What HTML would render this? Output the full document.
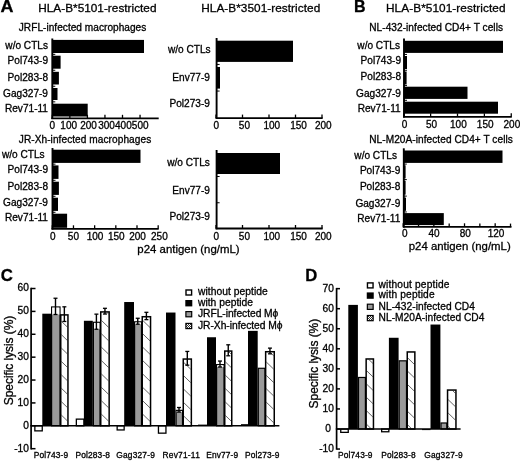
<!DOCTYPE html>
<html><head><meta charset="utf-8"><title>Figure</title>
<style>
html,body{margin:0;padding:0;background:#fff;}
body{width:520px;height:462px;overflow:hidden;}
svg{display:block;}
svg text{font-family:"Liberation Sans",Arial,sans-serif;fill:#000;stroke:#000;stroke-width:0.3px;}
</style></head><body>
<svg width="520" height="462" viewBox="0 0 520 462">
<rect width="520" height="462" fill="#fff"/>
<text transform="translate(0.6,12.4) scale(1.12,1)" font-size="16" font-weight="bold">A</text>
<text transform="translate(353.9,12.4) scale(1.0,1)" font-size="16" font-weight="bold">B</text>
<text transform="translate(0.7,280.7) scale(1.05,1)" font-size="16" font-weight="bold">C</text>
<text transform="translate(305.2,280.8) scale(1.04,1)" font-size="16" font-weight="bold">D</text>
<text x="38.2" y="12.1" font-size="11.8" text-anchor="start" font-weight="normal" textLength="118.3" lengthAdjust="spacing">HLA-B*5101-restricted</text>
<text x="201.2" y="12.1" font-size="11.8" text-anchor="start" font-weight="normal" textLength="119" lengthAdjust="spacing">HLA-B*3501-restricted</text>
<text x="386" y="12.1" font-size="11.8" text-anchor="start" font-weight="normal" textLength="119.5" lengthAdjust="spacing">HLA-B*5101-restricted</text>
<text x="18.8" y="30.6" font-size="10.1" text-anchor="start" font-weight="normal" textLength="127.5" lengthAdjust="spacing">JRFL-infected macrophages</text>
<text x="18.8" y="143" font-size="10.1" text-anchor="start" font-weight="normal" textLength="132.4" lengthAdjust="spacing">JR-Xh-infected macrophages</text>
<text x="369.2" y="30.7" font-size="10.1" text-anchor="start" font-weight="normal" textLength="133.8" lengthAdjust="spacing">NL-432-infected CD4+ T cells</text>
<text x="369.2" y="142.9" font-size="10.1" text-anchor="start" font-weight="normal" textLength="143.6" lengthAdjust="spacing">NL-M20A-infected CD4+ T cells</text>
<rect x="52.30" y="39.90" width="91.70" height="13.10" fill="#000"/>
<rect x="52.30" y="55.70" width="8.30" height="13.00" fill="#000"/>
<rect x="52.30" y="71.80" width="6.60" height="12.70" fill="#000"/>
<rect x="52.30" y="88.00" width="5.20" height="12.00" fill="#000"/>
<rect x="52.30" y="103.70" width="35.40" height="12.80" fill="#000"/>
<line x1="52.30" y1="38.50" x2="52.30" y2="119.05" stroke="#000" stroke-width="1.9"/>
<line x1="51.35" y1="118.30" x2="158.70" y2="118.30" stroke="#000" stroke-width="1.8"/>
<line x1="52.30" y1="118.30" x2="52.30" y2="114.80" stroke="#000" stroke-width="1.3"/>
<text x="52.4" y="128.6" font-size="10" text-anchor="middle" font-weight="normal" >0</text>
<line x1="69.85" y1="118.30" x2="69.85" y2="114.80" stroke="#000" stroke-width="1.3"/>
<text x="68.7" y="128.6" font-size="10" text-anchor="middle" font-weight="normal" >100</text>
<line x1="87.40" y1="118.30" x2="87.40" y2="114.80" stroke="#000" stroke-width="1.3"/>
<text x="88.6" y="128.6" font-size="10" text-anchor="middle" font-weight="normal" >200</text>
<line x1="104.95" y1="118.30" x2="104.95" y2="114.80" stroke="#000" stroke-width="1.3"/>
<text x="106.5" y="128.6" font-size="10" text-anchor="middle" font-weight="normal" >300</text>
<line x1="122.50" y1="118.30" x2="122.50" y2="114.80" stroke="#000" stroke-width="1.3"/>
<text x="123.4" y="128.6" font-size="10" text-anchor="middle" font-weight="normal" >400</text>
<line x1="140.05" y1="118.30" x2="140.05" y2="114.80" stroke="#000" stroke-width="1.3"/>
<text x="140.2" y="128.6" font-size="10" text-anchor="middle" font-weight="normal" >500</text>
<line x1="52.30" y1="54.35" x2="55.30" y2="54.35" stroke="#000" stroke-width="1"/>
<line x1="52.30" y1="70.25" x2="55.30" y2="70.25" stroke="#000" stroke-width="1"/>
<line x1="52.30" y1="86.25" x2="55.30" y2="86.25" stroke="#000" stroke-width="1"/>
<line x1="52.30" y1="101.85" x2="55.30" y2="101.85" stroke="#000" stroke-width="1"/>
<text x="48" y="49.4" font-size="10.1" text-anchor="end" font-weight="normal" >w/o CTLs</text>
<text x="48" y="64.4" font-size="10.1" text-anchor="end" font-weight="normal" >Pol743-9</text>
<text x="48" y="80.6" font-size="10.1" text-anchor="end" font-weight="normal" >Pol283-8</text>
<text x="48" y="97.0" font-size="10.1" text-anchor="end" font-weight="normal" >Gag327-9</text>
<text x="48" y="112.3" font-size="10.1" text-anchor="end" font-weight="normal" >Rev71-11</text>
<rect x="216.60" y="40.70" width="76.40" height="21.20" fill="#000"/>
<rect x="216.60" y="67.00" width="3.40" height="21.60" fill="#000"/>
<rect x="216.60" y="93.50" width="0.40" height="21.50" fill="#000"/>
<line x1="216.60" y1="38.00" x2="216.60" y2="118.85" stroke="#000" stroke-width="1.9"/>
<line x1="215.65" y1="118.10" x2="322.70" y2="118.10" stroke="#000" stroke-width="1.8"/>
<line x1="216.00" y1="118.10" x2="216.00" y2="114.60" stroke="#000" stroke-width="1.3"/>
<text x="216.2" y="128.6" font-size="10" text-anchor="middle" font-weight="normal" >0</text>
<line x1="242.50" y1="118.10" x2="242.50" y2="114.60" stroke="#000" stroke-width="1.3"/>
<text x="244.4" y="128.6" font-size="10" text-anchor="middle" font-weight="normal" >50</text>
<line x1="269.00" y1="118.10" x2="269.00" y2="114.60" stroke="#000" stroke-width="1.3"/>
<text x="271.8" y="128.6" font-size="10" text-anchor="middle" font-weight="normal" >100</text>
<line x1="295.50" y1="118.10" x2="295.50" y2="114.60" stroke="#000" stroke-width="1.3"/>
<text x="298.5" y="128.6" font-size="10" text-anchor="middle" font-weight="normal" >150</text>
<line x1="322.00" y1="118.10" x2="322.00" y2="114.60" stroke="#000" stroke-width="1.3"/>
<text x="323.3" y="128.6" font-size="10" text-anchor="middle" font-weight="normal" >200</text>
<line x1="216.60" y1="64.45" x2="219.60" y2="64.45" stroke="#000" stroke-width="1"/>
<line x1="216.60" y1="91.05" x2="219.60" y2="91.05" stroke="#000" stroke-width="1"/>
<text x="210.6" y="53.4" font-size="10.1" text-anchor="end" font-weight="normal" >w/o CTLs</text>
<text x="209.9" y="81.0" font-size="10.1" text-anchor="end" font-weight="normal" >Env77-9</text>
<text x="209.9" y="107.3" font-size="10.1" text-anchor="end" font-weight="normal" >Pol273-9</text>
<rect x="52.50" y="149.70" width="88.00" height="13.20" fill="#000"/>
<rect x="52.50" y="165.40" width="6.00" height="13.50" fill="#000"/>
<rect x="52.50" y="181.70" width="6.40" height="13.20" fill="#000"/>
<rect x="52.50" y="197.70" width="5.50" height="13.20" fill="#000"/>
<rect x="52.50" y="213.70" width="14.60" height="14.10" fill="#000"/>
<line x1="52.50" y1="148.00" x2="52.50" y2="229.55" stroke="#000" stroke-width="1.9"/>
<line x1="51.55" y1="228.80" x2="158.70" y2="228.80" stroke="#000" stroke-width="1.8"/>
<line x1="52.30" y1="228.80" x2="52.30" y2="225.30" stroke="#000" stroke-width="1.3"/>
<text x="52.8" y="240" font-size="10" text-anchor="middle" font-weight="normal" >0</text>
<line x1="73.47" y1="228.80" x2="73.47" y2="225.30" stroke="#000" stroke-width="1.3"/>
<text x="73.4" y="240" font-size="10" text-anchor="middle" font-weight="normal" >50</text>
<line x1="94.65" y1="228.80" x2="94.65" y2="225.30" stroke="#000" stroke-width="1.3"/>
<text x="95.0" y="240" font-size="10" text-anchor="middle" font-weight="normal" >100</text>
<line x1="115.82" y1="228.80" x2="115.82" y2="225.30" stroke="#000" stroke-width="1.3"/>
<text x="116.3" y="240" font-size="10" text-anchor="middle" font-weight="normal" >150</text>
<line x1="137.00" y1="228.80" x2="137.00" y2="225.30" stroke="#000" stroke-width="1.3"/>
<text x="137.5" y="240" font-size="10" text-anchor="middle" font-weight="normal" >200</text>
<line x1="158.18" y1="228.80" x2="158.18" y2="225.30" stroke="#000" stroke-width="1.3"/>
<text x="159.4" y="240" font-size="10" text-anchor="middle" font-weight="normal" >250</text>
<line x1="52.50" y1="164.15" x2="55.50" y2="164.15" stroke="#000" stroke-width="1"/>
<line x1="52.50" y1="180.30" x2="55.50" y2="180.30" stroke="#000" stroke-width="1"/>
<line x1="52.50" y1="196.30" x2="55.50" y2="196.30" stroke="#000" stroke-width="1"/>
<line x1="52.50" y1="212.30" x2="55.50" y2="212.30" stroke="#000" stroke-width="1"/>
<text x="44.6" y="158.4" font-size="10.1" text-anchor="end" font-weight="normal" >w/o CTLs</text>
<text x="48" y="173.0" font-size="10.1" text-anchor="end" font-weight="normal" >Pol743-9</text>
<text x="48" y="189.7" font-size="10.1" text-anchor="end" font-weight="normal" >Pol283-8</text>
<text x="48" y="206.3" font-size="10.1" text-anchor="end" font-weight="normal" >Gag327-9</text>
<text x="48" y="221.4" font-size="10.1" text-anchor="end" font-weight="normal" >Rev71-11</text>
<rect x="216.60" y="153.00" width="63.40" height="21.00" fill="#000"/>
<rect x="216.60" y="179.00" width="0.40" height="21.00" fill="#000"/>
<rect x="216.60" y="205.50" width="0.40" height="21.00" fill="#000"/>
<line x1="216.60" y1="150.00" x2="216.60" y2="229.25" stroke="#000" stroke-width="1.9"/>
<line x1="215.65" y1="228.50" x2="322.70" y2="228.50" stroke="#000" stroke-width="1.8"/>
<line x1="216.00" y1="228.50" x2="216.00" y2="225.00" stroke="#000" stroke-width="1.3"/>
<text x="216.2" y="239.6" font-size="10" text-anchor="middle" font-weight="normal" >0</text>
<line x1="242.50" y1="228.50" x2="242.50" y2="225.00" stroke="#000" stroke-width="1.3"/>
<text x="244.4" y="239.6" font-size="10" text-anchor="middle" font-weight="normal" >50</text>
<line x1="269.00" y1="228.50" x2="269.00" y2="225.00" stroke="#000" stroke-width="1.3"/>
<text x="271.8" y="239.6" font-size="10" text-anchor="middle" font-weight="normal" >100</text>
<line x1="295.50" y1="228.50" x2="295.50" y2="225.00" stroke="#000" stroke-width="1.3"/>
<text x="298.5" y="239.6" font-size="10" text-anchor="middle" font-weight="normal" >150</text>
<line x1="322.00" y1="228.50" x2="322.00" y2="225.00" stroke="#000" stroke-width="1.3"/>
<text x="323.3" y="239.6" font-size="10" text-anchor="middle" font-weight="normal" >200</text>
<line x1="216.60" y1="176.50" x2="219.60" y2="176.50" stroke="#000" stroke-width="1"/>
<line x1="216.60" y1="202.75" x2="219.60" y2="202.75" stroke="#000" stroke-width="1"/>
<text x="209.9" y="166.2" font-size="10.1" text-anchor="end" font-weight="normal" >w/o CTLs</text>
<text x="209.9" y="194.3" font-size="10.1" text-anchor="end" font-weight="normal" >Env77-9</text>
<text x="209.9" y="220.4" font-size="10.1" text-anchor="end" font-weight="normal" >Pol273-9</text>
<rect x="404.00" y="40.80" width="99.00" height="12.10" fill="#000"/>
<rect x="404.00" y="56.00" width="3.00" height="13.00" fill="#000"/>
<rect x="404.00" y="71.50" width="2.60" height="13.00" fill="#000"/>
<rect x="404.00" y="86.70" width="63.50" height="12.20" fill="#000"/>
<rect x="404.00" y="101.70" width="94.00" height="12.00" fill="#000"/>
<line x1="404.00" y1="38.60" x2="404.00" y2="117.55" stroke="#000" stroke-width="1.9"/>
<line x1="403.05" y1="116.80" x2="511.80" y2="116.80" stroke="#000" stroke-width="1.8"/>
<line x1="403.75" y1="116.80" x2="403.75" y2="113.30" stroke="#000" stroke-width="1.3"/>
<text x="404.5" y="128.3" font-size="10" text-anchor="middle" font-weight="normal" >0</text>
<line x1="430.62" y1="116.80" x2="430.62" y2="113.30" stroke="#000" stroke-width="1.3"/>
<text x="431.6" y="128.3" font-size="10" text-anchor="middle" font-weight="normal" >50</text>
<line x1="457.50" y1="116.80" x2="457.50" y2="113.30" stroke="#000" stroke-width="1.3"/>
<text x="458.4" y="128.3" font-size="10" text-anchor="middle" font-weight="normal" >100</text>
<line x1="484.38" y1="116.80" x2="484.38" y2="113.30" stroke="#000" stroke-width="1.3"/>
<text x="485.2" y="128.3" font-size="10" text-anchor="middle" font-weight="normal" >150</text>
<line x1="511.25" y1="116.80" x2="511.25" y2="113.30" stroke="#000" stroke-width="1.3"/>
<text x="511.9" y="128.3" font-size="10" text-anchor="middle" font-weight="normal" >200</text>
<line x1="404.00" y1="54.45" x2="407.00" y2="54.45" stroke="#000" stroke-width="1"/>
<line x1="404.00" y1="70.25" x2="407.00" y2="70.25" stroke="#000" stroke-width="1"/>
<line x1="404.00" y1="85.60" x2="407.00" y2="85.60" stroke="#000" stroke-width="1"/>
<line x1="404.00" y1="100.30" x2="407.00" y2="100.30" stroke="#000" stroke-width="1"/>
<text x="400.0" y="49.2" font-size="10.1" text-anchor="end" font-weight="normal" >w/o CTLs</text>
<text x="401.0" y="64.0" font-size="10.1" text-anchor="end" font-weight="normal" >Pol743-9</text>
<text x="401.0" y="80.4" font-size="10.1" text-anchor="end" font-weight="normal" >Pol283-8</text>
<text x="401.0" y="97.0" font-size="10.1" text-anchor="end" font-weight="normal" >Gag327-9</text>
<text x="400.7" y="112.3" font-size="10.1" text-anchor="end" font-weight="normal" >Rev71-11</text>
<rect x="403.80" y="150.50" width="98.70" height="12.40" fill="#000"/>
<rect x="403.80" y="165.30" width="1.80" height="13.10" fill="#000"/>
<rect x="403.80" y="180.80" width="1.80" height="13.80" fill="#000"/>
<rect x="403.80" y="197.60" width="2.20" height="13.20" fill="#000"/>
<rect x="403.80" y="213.10" width="40.00" height="12.00" fill="#000"/>
<line x1="403.80" y1="148.30" x2="403.80" y2="227.55" stroke="#000" stroke-width="1.9"/>
<line x1="402.85" y1="226.80" x2="511.50" y2="226.80" stroke="#000" stroke-width="1.8"/>
<line x1="403.20" y1="226.80" x2="403.20" y2="223.30" stroke="#000" stroke-width="1.3"/>
<text x="404.8" y="236.6" font-size="10" text-anchor="middle" font-weight="normal" >0</text>
<line x1="433.86" y1="226.80" x2="433.86" y2="223.30" stroke="#000" stroke-width="1.3"/>
<text x="434.1" y="236.6" font-size="10" text-anchor="middle" font-weight="normal" >40</text>
<line x1="464.52" y1="226.80" x2="464.52" y2="223.30" stroke="#000" stroke-width="1.3"/>
<text x="465.2" y="236.6" font-size="10" text-anchor="middle" font-weight="normal" >80</text>
<line x1="495.18" y1="226.80" x2="495.18" y2="223.30" stroke="#000" stroke-width="1.3"/>
<text x="496.0" y="236.6" font-size="10" text-anchor="middle" font-weight="normal" >120</text>
<line x1="403.80" y1="164.10" x2="406.80" y2="164.10" stroke="#000" stroke-width="1"/>
<line x1="403.80" y1="179.60" x2="406.80" y2="179.60" stroke="#000" stroke-width="1"/>
<line x1="403.80" y1="196.10" x2="406.80" y2="196.10" stroke="#000" stroke-width="1"/>
<line x1="403.80" y1="211.95" x2="406.80" y2="211.95" stroke="#000" stroke-width="1"/>
<text x="397.0" y="159.2" font-size="10.1" text-anchor="end" font-weight="normal" >w/o CTLs</text>
<text x="400.3" y="174.0" font-size="10.1" text-anchor="end" font-weight="normal" >Pol743-9</text>
<text x="400.3" y="190.4" font-size="10.1" text-anchor="end" font-weight="normal" >Pol283-8</text>
<text x="400.3" y="207.0" font-size="10.1" text-anchor="end" font-weight="normal" >Gag327-9</text>
<text x="400.3" y="222.3" font-size="10.1" text-anchor="end" font-weight="normal" >Rev71-11</text>
<line x1="418.53" y1="226.80" x2="418.53" y2="223.60" stroke="#000" stroke-width="1.3"/>
<line x1="449.19" y1="226.80" x2="449.19" y2="223.60" stroke="#000" stroke-width="1.3"/>
<line x1="479.85" y1="226.80" x2="479.85" y2="223.60" stroke="#000" stroke-width="1.3"/>
<line x1="510.51" y1="226.80" x2="510.51" y2="223.60" stroke="#000" stroke-width="1.3"/>
<text x="137.3" y="252.5" font-size="11.4" text-anchor="start" font-weight="normal" textLength="102.3" lengthAdjust="spacing">p24 antigen (ng/mL)</text>
<text x="408.7" y="249.8" font-size="11.4" text-anchor="start" font-weight="normal" textLength="102" lengthAdjust="spacing">p24 antigen (ng/mL)</text>
<defs><pattern id="h" width="11" height="11" patternUnits="userSpaceOnUse"><rect width="11" height="11" fill="#fff"/><path d="M-1,-1 L12,12 M-1,10 L1,12 M10,-1 L12,1" stroke="#333" stroke-width="0.6"/></pattern>
<pattern id="hs" width="2" height="2" patternUnits="userSpaceOnUse"><rect width="2" height="2" fill="#fff"/><path d="M-1,-1 L3,3 M-1,1 L1,3 M1,-1 L3,1" stroke="#000" stroke-width="0.8"/></pattern></defs>
<rect x="42.30" y="313.69" width="8.70" height="112.11" fill="#000"/>
<rect x="51.60" y="306.97" width="8.40" height="118.83" fill="#9a9a9a" stroke="#000" stroke-width="1.2"/>
<rect x="60.75" y="314.90" width="7.20" height="110.90" fill="#fff" stroke="#000" stroke-width="1.5"/>
<clipPath id="c1"><rect x="61.30" y="315.45" width="6.10" height="109.55"/></clipPath><g clip-path="url(#c1)">
<line x1="60.30" y1="293.43" x2="68.40" y2="301.29" stroke="#222" stroke-width="0.7"/>
<line x1="60.30" y1="306.83" x2="68.40" y2="314.69" stroke="#222" stroke-width="0.7"/>
<line x1="60.30" y1="320.23" x2="68.40" y2="328.09" stroke="#222" stroke-width="0.7"/>
<line x1="60.30" y1="333.63" x2="68.40" y2="341.49" stroke="#222" stroke-width="0.7"/>
<line x1="60.30" y1="347.03" x2="68.40" y2="354.89" stroke="#222" stroke-width="0.7"/>
<line x1="60.30" y1="360.43" x2="68.40" y2="368.29" stroke="#222" stroke-width="0.7"/>
<line x1="60.30" y1="373.83" x2="68.40" y2="381.69" stroke="#222" stroke-width="0.7"/>
<line x1="60.30" y1="387.23" x2="68.40" y2="395.09" stroke="#222" stroke-width="0.7"/>
<line x1="60.30" y1="400.63" x2="68.40" y2="408.49" stroke="#222" stroke-width="0.7"/>
<line x1="60.30" y1="414.03" x2="68.40" y2="421.89" stroke="#222" stroke-width="0.7"/>
</g>
<rect x="34.85" y="425.80" width="7.40" height="5.07" fill="#fff" stroke="#000" stroke-width="1.3"/>
<rect x="52.20" y="307.57" width="7.20" height="6.92" fill="#fff"/>
<line x1="55.50" y1="298.24" x2="55.50" y2="314.49" stroke="#000" stroke-width="1.4"/>
<line x1="53.50" y1="298.24" x2="57.50" y2="298.24" stroke="#000" stroke-width="1.3"/>
<line x1="53.50" y1="314.49" x2="57.50" y2="314.49" stroke="#000" stroke-width="1.3"/>
<line x1="64.35" y1="306.82" x2="64.35" y2="321.47" stroke="#000" stroke-width="1.4"/>
<line x1="62.35" y1="306.82" x2="66.35" y2="306.82" stroke="#000" stroke-width="1.3"/>
<line x1="62.35" y1="321.47" x2="66.35" y2="321.47" stroke="#000" stroke-width="1.3"/>
<rect x="83.90" y="320.78" width="8.90" height="105.02" fill="#000"/>
<rect x="93.40" y="322.30" width="6.60" height="103.50" fill="#9a9a9a" stroke="#000" stroke-width="1.2"/>
<rect x="100.75" y="311.92" width="8.40" height="113.88" fill="#fff" stroke="#000" stroke-width="1.5"/>
<clipPath id="c2"><rect x="101.30" y="312.47" width="7.30" height="112.53"/></clipPath><g clip-path="url(#c2)">
<line x1="100.30" y1="292.53" x2="109.60" y2="301.55" stroke="#222" stroke-width="0.7"/>
<line x1="100.30" y1="305.93" x2="109.60" y2="314.95" stroke="#222" stroke-width="0.7"/>
<line x1="100.30" y1="319.33" x2="109.60" y2="328.35" stroke="#222" stroke-width="0.7"/>
<line x1="100.30" y1="332.73" x2="109.60" y2="341.75" stroke="#222" stroke-width="0.7"/>
<line x1="100.30" y1="346.13" x2="109.60" y2="355.15" stroke="#222" stroke-width="0.7"/>
<line x1="100.30" y1="359.53" x2="109.60" y2="368.55" stroke="#222" stroke-width="0.7"/>
<line x1="100.30" y1="372.93" x2="109.60" y2="381.95" stroke="#222" stroke-width="0.7"/>
<line x1="100.30" y1="386.33" x2="109.60" y2="395.35" stroke="#222" stroke-width="0.7"/>
<line x1="100.30" y1="399.73" x2="109.60" y2="408.75" stroke="#222" stroke-width="0.7"/>
<line x1="100.30" y1="413.13" x2="109.60" y2="422.15" stroke="#222" stroke-width="0.7"/>
</g>
<rect x="76.35" y="419.13" width="7.50" height="6.67" fill="#fff" stroke="#000" stroke-width="1.3"/>
<rect x="94.00" y="322.90" width="5.40" height="6.35" fill="#fff"/>
<line x1="96.40" y1="314.15" x2="96.40" y2="329.25" stroke="#000" stroke-width="1.4"/>
<line x1="94.40" y1="314.15" x2="98.40" y2="314.15" stroke="#000" stroke-width="1.3"/>
<line x1="94.40" y1="329.25" x2="98.40" y2="329.25" stroke="#000" stroke-width="1.3"/>
<line x1="104.95" y1="308.31" x2="104.95" y2="314.03" stroke="#000" stroke-width="1.4"/>
<line x1="102.95" y1="308.31" x2="106.95" y2="308.31" stroke="#000" stroke-width="1.3"/>
<line x1="102.95" y1="314.03" x2="106.95" y2="314.03" stroke="#000" stroke-width="1.3"/>
<rect x="124.20" y="302.02" width="9.80" height="123.78" fill="#000"/>
<rect x="134.60" y="321.84" width="6.90" height="103.96" fill="#9a9a9a" stroke="#000" stroke-width="1.2"/>
<rect x="142.25" y="316.73" width="8.30" height="109.07" fill="#fff" stroke="#000" stroke-width="1.5"/>
<clipPath id="c3"><rect x="142.80" y="317.28" width="7.20" height="107.72"/></clipPath><g clip-path="url(#c3)">
<line x1="141.80" y1="292.73" x2="151.00" y2="301.65" stroke="#222" stroke-width="0.7"/>
<line x1="141.80" y1="306.13" x2="151.00" y2="315.05" stroke="#222" stroke-width="0.7"/>
<line x1="141.80" y1="319.53" x2="151.00" y2="328.45" stroke="#222" stroke-width="0.7"/>
<line x1="141.80" y1="332.93" x2="151.00" y2="341.85" stroke="#222" stroke-width="0.7"/>
<line x1="141.80" y1="346.33" x2="151.00" y2="355.25" stroke="#222" stroke-width="0.7"/>
<line x1="141.80" y1="359.73" x2="151.00" y2="368.65" stroke="#222" stroke-width="0.7"/>
<line x1="141.80" y1="373.13" x2="151.00" y2="382.05" stroke="#222" stroke-width="0.7"/>
<line x1="141.80" y1="386.53" x2="151.00" y2="395.45" stroke="#222" stroke-width="0.7"/>
<line x1="141.80" y1="399.93" x2="151.00" y2="408.85" stroke="#222" stroke-width="0.7"/>
<line x1="141.80" y1="413.33" x2="151.00" y2="422.25" stroke="#222" stroke-width="0.7"/>
</g>
<rect x="117.15" y="425.80" width="7.00" height="4.15" fill="#fff" stroke="#000" stroke-width="1.3"/>
<rect x="135.20" y="322.44" width="5.70" height="1.77" fill="#fff"/>
<line x1="137.75" y1="318.26" x2="137.75" y2="324.21" stroke="#000" stroke-width="1.4"/>
<line x1="135.75" y1="318.26" x2="139.75" y2="318.26" stroke="#000" stroke-width="1.3"/>
<line x1="135.75" y1="324.21" x2="139.75" y2="324.21" stroke="#000" stroke-width="1.3"/>
<line x1="146.40" y1="312.32" x2="146.40" y2="319.64" stroke="#000" stroke-width="1.4"/>
<line x1="144.40" y1="312.32" x2="148.40" y2="312.32" stroke="#000" stroke-width="1.3"/>
<line x1="144.40" y1="319.64" x2="148.40" y2="319.64" stroke="#000" stroke-width="1.3"/>
<rect x="166.00" y="312.54" width="9.50" height="113.26" fill="#000"/>
<rect x="176.10" y="410.38" width="6.40" height="15.42" fill="#9a9a9a" stroke="#000" stroke-width="1.2"/>
<rect x="183.25" y="359.05" width="8.10" height="66.75" fill="#fff" stroke="#000" stroke-width="1.5"/>
<clipPath id="c4"><rect x="183.80" y="359.60" width="7.00" height="65.40"/></clipPath><g clip-path="url(#c4)">
<line x1="182.80" y1="334.73" x2="191.80" y2="343.46" stroke="#222" stroke-width="0.7"/>
<line x1="182.80" y1="348.13" x2="191.80" y2="356.86" stroke="#222" stroke-width="0.7"/>
<line x1="182.80" y1="361.53" x2="191.80" y2="370.26" stroke="#222" stroke-width="0.7"/>
<line x1="182.80" y1="374.93" x2="191.80" y2="383.66" stroke="#222" stroke-width="0.7"/>
<line x1="182.80" y1="388.33" x2="191.80" y2="397.06" stroke="#222" stroke-width="0.7"/>
<line x1="182.80" y1="401.73" x2="191.80" y2="410.46" stroke="#222" stroke-width="0.7"/>
<line x1="182.80" y1="415.13" x2="191.80" y2="423.86" stroke="#222" stroke-width="0.7"/>
</g>
<rect x="158.45" y="425.80" width="7.50" height="7.36" fill="#fff" stroke="#000" stroke-width="1.3"/>
<rect x="176.70" y="410.98" width="5.20" height="1.09" fill="#fff"/>
<line x1="179.00" y1="407.50" x2="179.00" y2="412.07" stroke="#000" stroke-width="1.4"/>
<line x1="177.00" y1="407.50" x2="181.00" y2="407.50" stroke="#000" stroke-width="1.3"/>
<line x1="177.00" y1="412.07" x2="181.00" y2="412.07" stroke="#000" stroke-width="1.3"/>
<line x1="187.30" y1="351.44" x2="187.30" y2="365.17" stroke="#000" stroke-width="1.4"/>
<line x1="185.30" y1="351.44" x2="189.30" y2="351.44" stroke="#000" stroke-width="1.3"/>
<line x1="185.30" y1="365.17" x2="189.30" y2="365.17" stroke="#000" stroke-width="1.3"/>
<rect x="207.00" y="337.25" width="9.00" height="88.55" fill="#000"/>
<rect x="216.60" y="364.62" width="7.40" height="61.18" fill="#9a9a9a" stroke="#000" stroke-width="1.2"/>
<rect x="224.75" y="351.05" width="7.00" height="74.75" fill="#fff" stroke="#000" stroke-width="1.5"/>
<clipPath id="c5"><rect x="225.30" y="351.60" width="5.90" height="73.40"/></clipPath><g clip-path="url(#c5)">
<line x1="224.30" y1="334.03" x2="232.20" y2="341.69" stroke="#222" stroke-width="0.7"/>
<line x1="224.30" y1="347.43" x2="232.20" y2="355.09" stroke="#222" stroke-width="0.7"/>
<line x1="224.30" y1="360.83" x2="232.20" y2="368.49" stroke="#222" stroke-width="0.7"/>
<line x1="224.30" y1="374.23" x2="232.20" y2="381.89" stroke="#222" stroke-width="0.7"/>
<line x1="224.30" y1="387.63" x2="232.20" y2="395.29" stroke="#222" stroke-width="0.7"/>
<line x1="224.30" y1="401.03" x2="232.20" y2="408.69" stroke="#222" stroke-width="0.7"/>
<line x1="224.30" y1="414.43" x2="232.20" y2="422.09" stroke="#222" stroke-width="0.7"/>
</g>
<line x1="198.00" y1="425.11" x2="207.00" y2="425.11" stroke="#000" stroke-width="1"/>
<rect x="217.20" y="365.22" width="6.20" height="1.77" fill="#fff"/>
<line x1="220.00" y1="361.05" x2="220.00" y2="367.00" stroke="#000" stroke-width="1.4"/>
<line x1="218.00" y1="361.05" x2="222.00" y2="361.05" stroke="#000" stroke-width="1.3"/>
<line x1="218.00" y1="367.00" x2="222.00" y2="367.00" stroke="#000" stroke-width="1.3"/>
<line x1="228.25" y1="344.80" x2="228.25" y2="355.79" stroke="#000" stroke-width="1.4"/>
<line x1="226.25" y1="344.80" x2="230.25" y2="344.80" stroke="#000" stroke-width="1.3"/>
<line x1="226.25" y1="355.79" x2="230.25" y2="355.79" stroke="#000" stroke-width="1.3"/>
<rect x="248.00" y="330.85" width="9.70" height="94.95" fill="#000"/>
<rect x="258.30" y="368.28" width="6.60" height="57.52" fill="#9a9a9a" stroke="#000" stroke-width="1.2"/>
<rect x="265.65" y="351.73" width="8.60" height="74.07" fill="#fff" stroke="#000" stroke-width="1.5"/>
<clipPath id="c6"><rect x="266.20" y="352.28" width="7.50" height="72.72"/></clipPath><g clip-path="url(#c6)">
<line x1="265.20" y1="334.13" x2="274.70" y2="343.35" stroke="#222" stroke-width="0.7"/>
<line x1="265.20" y1="347.53" x2="274.70" y2="356.75" stroke="#222" stroke-width="0.7"/>
<line x1="265.20" y1="360.93" x2="274.70" y2="370.14" stroke="#222" stroke-width="0.7"/>
<line x1="265.20" y1="374.33" x2="274.70" y2="383.54" stroke="#222" stroke-width="0.7"/>
<line x1="265.20" y1="387.73" x2="274.70" y2="396.94" stroke="#222" stroke-width="0.7"/>
<line x1="265.20" y1="401.13" x2="274.70" y2="410.34" stroke="#222" stroke-width="0.7"/>
<line x1="265.20" y1="414.53" x2="274.70" y2="423.74" stroke="#222" stroke-width="0.7"/>
</g>
<line x1="241.00" y1="424.66" x2="248.00" y2="424.66" stroke="#000" stroke-width="1"/>
<line x1="269.95" y1="348.12" x2="269.95" y2="353.84" stroke="#000" stroke-width="1.4"/>
<line x1="267.95" y1="348.12" x2="271.95" y2="348.12" stroke="#000" stroke-width="1.3"/>
<line x1="267.95" y1="353.84" x2="271.95" y2="353.84" stroke="#000" stroke-width="1.3"/>
<line x1="31.10" y1="287.70" x2="31.10" y2="449.40" stroke="#000" stroke-width="1.7"/>
<line x1="30.30" y1="425.80" x2="279.40" y2="425.80" stroke="#000" stroke-width="1.6"/>
<line x1="31.10" y1="288.52" x2="35.50" y2="288.52" stroke="#000" stroke-width="1.5"/>
<text x="28.9" y="291.0" font-size="10.2" text-anchor="end" font-weight="normal" >60</text>
<line x1="31.10" y1="311.40" x2="35.50" y2="311.40" stroke="#000" stroke-width="1.5"/>
<text x="28.9" y="314.1" font-size="10.2" text-anchor="end" font-weight="normal" >50</text>
<line x1="31.10" y1="334.28" x2="35.50" y2="334.28" stroke="#000" stroke-width="1.5"/>
<text x="28.9" y="337.1" font-size="10.2" text-anchor="end" font-weight="normal" >40</text>
<line x1="31.10" y1="357.16" x2="35.50" y2="357.16" stroke="#000" stroke-width="1.5"/>
<text x="28.9" y="360.1" font-size="10.2" text-anchor="end" font-weight="normal" >30</text>
<line x1="31.10" y1="380.04" x2="35.50" y2="380.04" stroke="#000" stroke-width="1.5"/>
<text x="28.9" y="383.2" font-size="10.2" text-anchor="end" font-weight="normal" >20</text>
<line x1="31.10" y1="402.92" x2="35.50" y2="402.92" stroke="#000" stroke-width="1.5"/>
<text x="28.9" y="406.2" font-size="10.2" text-anchor="end" font-weight="normal" >10</text>
<line x1="31.10" y1="425.80" x2="35.50" y2="425.80" stroke="#000" stroke-width="1.5"/>
<text x="28.9" y="429.3" font-size="10.2" text-anchor="end" font-weight="normal" >0</text>
<line x1="31.10" y1="448.68" x2="35.50" y2="448.68" stroke="#000" stroke-width="1.5"/>
<text x="28.9" y="452.4" font-size="10.2" text-anchor="end" font-weight="normal" >-10</text>
<text x="33.75" y="458.2" font-size="8.4" text-anchor="start" font-weight="normal" textLength="34.3" lengthAdjust="spacing">Pol743-9</text>
<text x="75.5" y="458.2" font-size="8.4" text-anchor="start" font-weight="normal" textLength="34.5" lengthAdjust="spacing">Pol283-8</text>
<text x="116.25" y="458.2" font-size="8.4" text-anchor="start" font-weight="normal" textLength="38.6" lengthAdjust="spacing">Gag327-9</text>
<text x="162.5" y="458.2" font-size="8.4" text-anchor="start" font-weight="normal" textLength="37.3" lengthAdjust="spacing">Rev71-11</text>
<text x="206.25" y="458.2" font-size="8.4" text-anchor="start" font-weight="normal" textLength="31.8" lengthAdjust="spacing">Env77-9</text>
<text x="245" y="458.2" font-size="8.4" text-anchor="start" font-weight="normal" textLength="34.3" lengthAdjust="spacing">Pol273-9</text>
<text transform="translate(12.8,405.2) rotate(-90)" font-size="12" textLength="89.5" lengthAdjust="spacing">Specific lysis (%)</text>
<rect x="186.00" y="290.00" width="5.60" height="5.00" fill="#fff" stroke="#000" stroke-width="1.4"/>
<text x="198" y="295.4" font-size="10.3" text-anchor="start" font-weight="normal" textLength="69.8" lengthAdjust="spacing">without peptide</text>
<rect x="185.30" y="300.00" width="7.00" height="6.40" fill="#000"/>
<text x="198" y="306.1" font-size="10.3" text-anchor="start" font-weight="normal" textLength="55" lengthAdjust="spacing">with peptide</text>
<rect x="185.90" y="311.60" width="5.80" height="5.20" fill="#9a9a9a" stroke="#000" stroke-width="1.2"/>
<text x="198" y="317.1" font-size="10.3" text-anchor="start" font-weight="normal" textLength="80.4" lengthAdjust="spacing">JRFL-infected M&#981;</text>
<rect x="185.90" y="323.40" width="5.80" height="5.20" fill="url(#hs)" stroke="#000" stroke-width="1.2"/>
<text x="198" y="328.9" font-size="10.3" text-anchor="start" font-weight="normal" textLength="84.6" lengthAdjust="spacing">JR-Xh-infected M&#981;</text>
<rect x="348.30" y="304.89" width="9.60" height="124.11" fill="#000"/>
<rect x="358.50" y="377.47" width="6.90" height="51.53" fill="#9a9a9a" stroke="#000" stroke-width="1.2"/>
<rect x="366.15" y="358.97" width="7.30" height="70.03" fill="#fff" stroke="#000" stroke-width="1.5"/>
<clipPath id="c7"><rect x="366.70" y="359.52" width="6.20" height="68.68"/></clipPath><g clip-path="url(#c7)">
<line x1="365.70" y1="343.03" x2="373.90" y2="350.98" stroke="#222" stroke-width="0.7"/>
<line x1="365.70" y1="356.43" x2="373.90" y2="364.38" stroke="#222" stroke-width="0.7"/>
<line x1="365.70" y1="369.83" x2="373.90" y2="377.78" stroke="#222" stroke-width="0.7"/>
<line x1="365.70" y1="383.23" x2="373.90" y2="391.18" stroke="#222" stroke-width="0.7"/>
<line x1="365.70" y1="396.63" x2="373.90" y2="404.58" stroke="#222" stroke-width="0.7"/>
<line x1="365.70" y1="410.03" x2="373.90" y2="417.98" stroke="#222" stroke-width="0.7"/>
<line x1="365.70" y1="423.43" x2="373.90" y2="431.38" stroke="#222" stroke-width="0.7"/>
</g>
<rect x="340.75" y="429.00" width="7.50" height="3.36" fill="#fff" stroke="#000" stroke-width="1.3"/>
<rect x="388.90" y="337.77" width="9.70" height="91.23" fill="#000"/>
<rect x="399.20" y="360.83" width="7.30" height="68.17" fill="#9a9a9a" stroke="#000" stroke-width="1.2"/>
<rect x="407.25" y="351.96" width="7.60" height="77.04" fill="#fff" stroke="#000" stroke-width="1.5"/>
<clipPath id="c8"><rect x="407.80" y="352.51" width="6.50" height="75.69"/></clipPath><g clip-path="url(#c8)">
<line x1="406.80" y1="330.23" x2="415.30" y2="338.48" stroke="#222" stroke-width="0.7"/>
<line x1="406.80" y1="343.63" x2="415.30" y2="351.88" stroke="#222" stroke-width="0.7"/>
<line x1="406.80" y1="357.03" x2="415.30" y2="365.27" stroke="#222" stroke-width="0.7"/>
<line x1="406.80" y1="370.43" x2="415.30" y2="378.67" stroke="#222" stroke-width="0.7"/>
<line x1="406.80" y1="383.83" x2="415.30" y2="392.07" stroke="#222" stroke-width="0.7"/>
<line x1="406.80" y1="397.23" x2="415.30" y2="405.47" stroke="#222" stroke-width="0.7"/>
<line x1="406.80" y1="410.63" x2="415.30" y2="418.87" stroke="#222" stroke-width="0.7"/>
<line x1="406.80" y1="424.03" x2="415.30" y2="432.27" stroke="#222" stroke-width="0.7"/>
</g>
<rect x="381.65" y="429.00" width="7.20" height="2.76" fill="#fff" stroke="#000" stroke-width="1.3"/>
<rect x="430.50" y="324.54" width="9.90" height="104.46" fill="#000"/>
<rect x="441.00" y="422.98" width="5.80" height="6.02" fill="#9a9a9a" stroke="#000" stroke-width="1.2"/>
<rect x="447.55" y="390.05" width="8.40" height="38.95" fill="#fff" stroke="#000" stroke-width="1.5"/>
<clipPath id="c9"><rect x="448.10" y="390.60" width="7.30" height="37.60"/></clipPath><g clip-path="url(#c9)">
<line x1="447.10" y1="371.83" x2="456.40" y2="380.85" stroke="#222" stroke-width="0.7"/>
<line x1="447.10" y1="385.23" x2="456.40" y2="394.25" stroke="#222" stroke-width="0.7"/>
<line x1="447.10" y1="398.63" x2="456.40" y2="407.65" stroke="#222" stroke-width="0.7"/>
<line x1="447.10" y1="412.03" x2="456.40" y2="421.05" stroke="#222" stroke-width="0.7"/>
<line x1="447.10" y1="425.43" x2="456.40" y2="434.45" stroke="#222" stroke-width="0.7"/>
</g>
<line x1="422.00" y1="429.60" x2="430.50" y2="429.60" stroke="#000" stroke-width="1"/>
<line x1="336.60" y1="287.90" x2="336.60" y2="449.70" stroke="#000" stroke-width="1.7"/>
<line x1="335.80" y1="429.00" x2="460.60" y2="429.00" stroke="#000" stroke-width="1.6"/>
<line x1="336.60" y1="288.65" x2="340.00" y2="288.65" stroke="#000" stroke-width="1.5"/>
<text x="333.9" y="291.9" font-size="10.2" text-anchor="end" font-weight="normal" >70</text>
<line x1="336.60" y1="308.70" x2="340.00" y2="308.70" stroke="#000" stroke-width="1.5"/>
<text x="333.9" y="311.9" font-size="10.2" text-anchor="end" font-weight="normal" >60</text>
<line x1="336.60" y1="328.75" x2="340.00" y2="328.75" stroke="#000" stroke-width="1.5"/>
<text x="333.9" y="331.9" font-size="10.2" text-anchor="end" font-weight="normal" >50</text>
<line x1="336.60" y1="348.80" x2="340.00" y2="348.80" stroke="#000" stroke-width="1.5"/>
<text x="333.9" y="352.0" font-size="10.2" text-anchor="end" font-weight="normal" >40</text>
<line x1="336.60" y1="368.85" x2="340.00" y2="368.85" stroke="#000" stroke-width="1.5"/>
<text x="333.9" y="372.1" font-size="10.2" text-anchor="end" font-weight="normal" >30</text>
<line x1="336.60" y1="388.90" x2="340.00" y2="388.90" stroke="#000" stroke-width="1.5"/>
<text x="333.9" y="392.1" font-size="10.2" text-anchor="end" font-weight="normal" >20</text>
<line x1="336.60" y1="408.95" x2="340.00" y2="408.95" stroke="#000" stroke-width="1.5"/>
<text x="333.9" y="412.1" font-size="10.2" text-anchor="end" font-weight="normal" >10</text>
<line x1="336.60" y1="429.00" x2="340.00" y2="429.00" stroke="#000" stroke-width="1.5"/>
<text x="330.9" y="432.2" font-size="10.2" text-anchor="end" font-weight="normal" >0</text>
<line x1="336.60" y1="449.05" x2="340.00" y2="449.05" stroke="#000" stroke-width="1.5"/>
<text x="333.9" y="452.2" font-size="10.2" text-anchor="end" font-weight="normal" >-10</text>
<text x="338.1" y="458.2" font-size="8.4" text-anchor="start" font-weight="normal" textLength="34.4" lengthAdjust="spacing">Pol743-9</text>
<text x="381.2" y="458.2" font-size="8.4" text-anchor="start" font-weight="normal" textLength="34.4" lengthAdjust="spacing">Pol283-8</text>
<text x="424.2" y="458.2" font-size="8.4" text-anchor="start" font-weight="normal" textLength="38.5" lengthAdjust="spacing">Gag327-9</text>
<text transform="translate(317.7,408.4) rotate(-90)" font-size="12" textLength="89.6" lengthAdjust="spacing">Specific lysis (%)</text>
<rect x="367.45" y="282.90" width="5.60" height="5.00" fill="#fff" stroke="#000" stroke-width="1.4"/>
<text x="378.6" y="288.2" font-size="10.2" text-anchor="start" font-weight="normal" textLength="70.8" lengthAdjust="spacing">without peptide</text>
<rect x="366.75" y="292.40" width="7.00" height="6.40" fill="#000"/>
<text x="378.6" y="298.4" font-size="10.2" text-anchor="start" font-weight="normal" textLength="56" lengthAdjust="spacing">with peptide</text>
<rect x="367.35" y="304.20" width="5.80" height="5.20" fill="#9a9a9a" stroke="#000" stroke-width="1.2"/>
<text x="378.6" y="309.6" font-size="10.2" text-anchor="start" font-weight="normal" textLength="96.3" lengthAdjust="spacing">NL-432-infected CD4</text>
<rect x="367.35" y="315.50" width="5.80" height="5.20" fill="url(#hs)" stroke="#000" stroke-width="1.2"/>
<text x="378.6" y="320.9" font-size="10.2" text-anchor="start" font-weight="normal" textLength="105.8" lengthAdjust="spacing">NL-M20A-infected CD4</text>
</svg>
</body></html>
